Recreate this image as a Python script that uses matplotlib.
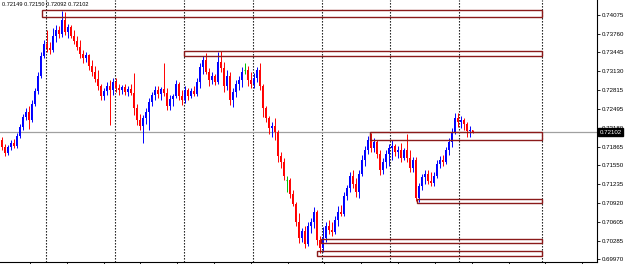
import matplotlib
matplotlib.use("Agg")
import matplotlib.pyplot as plt
from matplotlib.patches import Rectangle
import numpy as np

# H4 candles, oldest first (prices)
opens = [
    0.7198, 0.7186, 0.7176, 0.7186, 0.7193, 0.7188, 0.7205, 0.7220, 0.7236, 0.7245,
    0.7231, 0.7258, 0.7280, 0.7305, 0.7339, 0.7359, 0.7352, 0.7349, 0.7373, 0.7383,
    0.7376, 0.7399, 0.7379, 0.7388, 0.7373, 0.7364, 0.7354, 0.7342, 0.7336, 0.7341,
    0.7322, 0.7312, 0.7300, 0.7289, 0.7272, 0.7280, 0.7289, 0.7282, 0.7295, 0.7285,
    0.7282, 0.7287, 0.7278, 0.7283, 0.7277, 0.7252, 0.7231, 0.7221, 0.7235, 0.7245,
    0.7262, 0.7273, 0.7282, 0.7275, 0.7283, 0.7277, 0.7255, 0.7267, 0.7272, 0.7292,
    0.7272, 0.7265, 0.7282, 0.7272, 0.7280, 0.7275, 0.7295, 0.7320, 0.7332, 0.7312,
    0.7299, 0.7305, 0.7295, 0.7329, 0.7319, 0.7289, 0.7305, 0.7265, 0.7278, 0.7292,
    0.7299, 0.7315, 0.7315, 0.7299, 0.7292, 0.7302, 0.7315, 0.7289, 0.7252, 0.7235,
    0.7218, 0.7221, 0.7211, 0.7171, 0.7161, 0.7131, 0.7131, 0.7107, 0.7090, 0.7060,
    0.7033, 0.7045, 0.7023, 0.7053, 0.7060, 0.7077, 0.7030, 0.7016, 0.7033, 0.7053,
    0.7047, 0.7043, 0.7063, 0.7077, 0.7073, 0.7104, 0.7117, 0.7137, 0.7124, 0.7110,
    0.7141, 0.7164, 0.7181, 0.7198, 0.7184, 0.7194, 0.7174, 0.7147, 0.7161, 0.7174,
    0.7184, 0.7188, 0.7178, 0.7181, 0.7168, 0.7181, 0.7168, 0.7151, 0.7164, 0.7100,
    0.7121, 0.7136, 0.7141, 0.7129, 0.7126, 0.7137, 0.7157, 0.7164, 0.7161, 0.7181,
    0.7194, 0.7211, 0.7235, 0.7228, 0.7231, 0.7225, 0.7213, 0.72149,
]
highs = [
    0.7203, 0.7191, 0.7189, 0.7198, 0.7199, 0.7210, 0.7225, 0.7241, 0.7252, 0.7255,
    0.7265, 0.7285, 0.7312, 0.7346, 0.7366, 0.7383, 0.7362, 0.7386, 0.7391, 0.7389,
    0.7415, 0.7413, 0.7393, 0.7391, 0.7383, 0.7373, 0.7366, 0.7349, 0.7346, 0.7342,
    0.7332, 0.7322, 0.7315, 0.7292, 0.7285, 0.7295, 0.7299, 0.7302, 0.7302, 0.7292,
    0.7290, 0.7292, 0.7289, 0.7292, 0.7310, 0.7258, 0.7241, 0.7240, 0.7252, 0.7268,
    0.7278, 0.7289, 0.7289, 0.7287, 0.7327, 0.7285, 0.7273, 0.7275, 0.7299, 0.7295,
    0.7282, 0.7289, 0.7285, 0.7285, 0.7289, 0.7302, 0.7327, 0.7339, 0.7344, 0.7319,
    0.7312, 0.7309, 0.7346, 0.7347, 0.7329, 0.7315, 0.7312, 0.7285, 0.7299, 0.7305,
    0.7320, 0.7327, 0.7322, 0.7312, 0.7310, 0.7320, 0.7327, 0.7292, 0.7255, 0.7238,
    0.7228, 0.7235, 0.7215, 0.7178, 0.7168, 0.7137, 0.7134, 0.7114, 0.7094, 0.7075,
    0.7050, 0.7053, 0.7060, 0.7067, 0.7085, 0.7080, 0.7037, 0.7052, 0.7060, 0.7063,
    0.7060, 0.7070, 0.7087, 0.7089, 0.7110, 0.7122, 0.7144, 0.7147, 0.7134, 0.7147,
    0.7173, 0.7188, 0.7205, 0.7210, 0.7201, 0.7198, 0.7181, 0.7168, 0.7181, 0.7191,
    0.7198, 0.7191, 0.7188, 0.7193, 0.7184, 0.7208, 0.7181, 0.7169, 0.7169, 0.7126,
    0.7141, 0.7147, 0.7147, 0.7144, 0.7144, 0.7164, 0.7171, 0.7173, 0.7186, 0.7201,
    0.7218, 0.7243, 0.7243, 0.7238, 0.7235, 0.7228, 0.7221, 0.72150,
]
lows = [
    0.7181, 0.7171, 0.7173, 0.7181, 0.7184, 0.7184, 0.7201, 0.7215, 0.7231, 0.7216,
    0.7228, 0.7255, 0.7275, 0.7302, 0.7336, 0.7346, 0.7342, 0.7346, 0.7362, 0.7369,
    0.7371, 0.7374, 0.7369, 0.7369, 0.7359, 0.7349, 0.7336, 0.7327, 0.7329, 0.7315,
    0.7305, 0.7295, 0.7282, 0.7265, 0.7265, 0.7273, 0.7223, 0.7273, 0.7278, 0.7273,
    0.7275, 0.7273, 0.7272, 0.7273, 0.7240, 0.7223, 0.7215, 0.7193, 0.7225, 0.7215,
    0.7255, 0.7265, 0.7268, 0.7265, 0.7272, 0.7248, 0.7248, 0.7255, 0.7268, 0.7265,
    0.7257, 0.7260, 0.7265, 0.7268, 0.7272, 0.7272, 0.7285, 0.7309, 0.7309, 0.7289,
    0.7292, 0.7290, 0.7292, 0.7312, 0.7278, 0.7282, 0.7257, 0.7253, 0.7270, 0.7282,
    0.7287, 0.7309, 0.7289, 0.7285, 0.7285, 0.7295, 0.7282, 0.7236, 0.7228, 0.7208,
    0.7203, 0.7198, 0.7161, 0.7151, 0.7131, 0.7110, 0.7100, 0.7087, 0.7053, 0.7025,
    0.7026, 0.7016, 0.7020, 0.7042, 0.7050, 0.7021, 0.7008, 0.7010, 0.7026, 0.7040,
    0.7037, 0.7040, 0.7053, 0.7070, 0.7070, 0.7097, 0.7110, 0.7117, 0.7102, 0.7100,
    0.7137, 0.7154, 0.7174, 0.7178, 0.7178, 0.7168, 0.7139, 0.7141, 0.7151, 0.7154,
    0.7164, 0.7171, 0.7168, 0.7161, 0.7164, 0.7161, 0.7144, 0.7144, 0.7095, 0.7094,
    0.7114, 0.7124, 0.7124, 0.7121, 0.7121, 0.7134, 0.7151, 0.7154, 0.7157, 0.7173,
    0.7186, 0.7208, 0.7220, 0.7218, 0.7215, 0.7203, 0.7203, 0.72092,
]
closes = [
    0.7186, 0.7176, 0.7186, 0.7193, 0.7188, 0.7205, 0.7220, 0.7236, 0.7245, 0.7231,
    0.7258, 0.7280, 0.7305, 0.7339, 0.7359, 0.7352, 0.7349, 0.7373, 0.7383, 0.7376,
    0.7399, 0.7379, 0.7388, 0.7373, 0.7364, 0.7354, 0.7342, 0.7336, 0.7341, 0.7322,
    0.7312, 0.7300, 0.7289, 0.7272, 0.7280, 0.7289, 0.7282, 0.7295, 0.7285, 0.7282,
    0.7287, 0.7278, 0.7283, 0.7277, 0.7252, 0.7231, 0.7221, 0.7235, 0.7245, 0.7262,
    0.7273, 0.7282, 0.7275, 0.7283, 0.7277, 0.7255, 0.7267, 0.7272, 0.7292, 0.7272,
    0.7265, 0.7282, 0.7272, 0.7280, 0.7275, 0.7295, 0.7320, 0.7332, 0.7312, 0.7299,
    0.7305, 0.7295, 0.7329, 0.7319, 0.7289, 0.7305, 0.7265, 0.7278, 0.7292, 0.7299,
    0.7312, 0.7315, 0.7299, 0.7292, 0.7302, 0.7315, 0.7289, 0.7252, 0.7235, 0.7218,
    0.7221, 0.7211, 0.7171, 0.7161, 0.7137, 0.7131, 0.7107, 0.7090, 0.7060, 0.7033,
    0.7045, 0.7023, 0.7053, 0.7060, 0.7077, 0.7030, 0.7016, 0.7033, 0.7053, 0.7047,
    0.7043, 0.7063, 0.7077, 0.7073, 0.7104, 0.7117, 0.7137, 0.7124, 0.7110, 0.7141,
    0.7164, 0.7181, 0.7198, 0.7184, 0.7194, 0.7174, 0.7147, 0.7161, 0.7174, 0.7184,
    0.7188, 0.7178, 0.7181, 0.7168, 0.7181, 0.7168, 0.7151, 0.7164, 0.7100, 0.7121,
    0.7136, 0.7141, 0.7129, 0.7126, 0.7137, 0.7157, 0.7164, 0.7161, 0.7181, 0.7194,
    0.7211, 0.7235, 0.7228, 0.7231, 0.7225, 0.7213, 0.7215, 0.72102,
]

# price scale labels shown on the right
price_ticks = [0.74075, 0.73760, 0.73445, 0.73130, 0.72815, 0.72495, 0.72180,
               0.71865, 0.71550, 0.71235, 0.70920, 0.70605, 0.70285, 0.69970]

# supply / demand boxes: first bar, lower price, upper price (all end at the same bar)
zone_start = [13.5, 60.8, 122.8, 138.5, 106.5, 105.2]
zone_low = [0.74040, 0.73386, 0.71975, 0.70917, 0.70245, 0.70026]
zone_high = [0.74160, 0.73470, 0.72109, 0.70984, 0.70312, 0.70110]
zone_end = 180.2

# weekly period separators (bar positions)
separators = [14.8, 37.8, 60.8, 83.8, 106.8, 129.5, 152.5, 180.2]

o = np.array(opens)
h = np.array(highs)
l = np.array(lows)
c = np.array(closes)
x = np.arange(len(c))

plt.rcParams['font.family'] = ['Liberation Sans', 'DejaVu Sans']

fig = plt.figure(figsize=(6.25, 2.64), dpi=100)
ax = fig.add_axes([0, 2 / 264, 597 / 625, 262 / 264])

bull_col = '#0000ff'
bear_col = '#ff0000'
doji_col = '#00c000'

up = c > o
dn = c < o
dj = c == o

ax.vlines(x[up], l[up], h[up], color=bull_col, lw=0.7, zorder=3)
ax.bar(x[up], c[up] - o[up], bottom=o[up], width=0.55, color=bull_col, lw=0, zorder=3)
ax.vlines(x[dn], l[dn], h[dn], color=bear_col, lw=0.7, zorder=3)
ax.bar(x[dn], o[dn] - c[dn], bottom=c[dn], width=0.55, color=bear_col, lw=0, zorder=3)
ax.vlines(x[dj], l[dj], h[dj], color=doji_col, lw=0.7, zorder=3)
ax.hlines(o[dj], x[dj] - 0.3, x[dj] + 0.3, color=doji_col, lw=0.8, zorder=3)

for s, lo, hi in zip(zone_start, zone_low, zone_high):
    ax.add_patch(Rectangle((s, lo), zone_end - s, hi - lo, fill=False,
                           ec='#8b1a1a', lw=1.0, zorder=4))

for s in separators:
    ax.axvline(s, color='black', lw=0.8, ls=(0, (1.2, 1.5)), zorder=1)

# bid line
ax.axhline(c[-1], color='#a0a0a0', lw=0.9, zorder=2)

ax.set_xlim(-0.5, 198.5)
ax.set_ylim(0.69925, 0.74327)

ax.yaxis.tick_right()
ax.set_yticks(price_ticks)
ax.set_yticklabels(['%.5f' % p for p in price_ticks])
ax.tick_params(axis='y', length=2, width=0.6, pad=1.2, labelsize=4.4)

ax.set_xticks([9.5 + 12.27 * k for k in range(16)])
ax.set_xticklabels([])
ax.tick_params(axis='x', length=2, width=0.6)

for side in ['left', 'top']:
    ax.spines[side].set_visible(False)
for side in ['right', 'bottom']:
    ax.spines[side].set_linewidth(0.8)

ax.text(1.0045, c[-1], '%.5f' % c[-1], transform=ax.get_yaxis_transform(),
        fontsize=4.4, color='white', va='center', ha='left', clip_on=False, zorder=10,
        bbox=dict(boxstyle='square,pad=0.25', fc='black', ec='black'))

fig.text(2 / 625, 1 - 4 / 264, '%.5f %.5f %.5f %.5f' % (o[-1], h[-1], l[-1], c[-1]),
         fontsize=4.1, va='center', ha='left')

fig.savefig('out.png', dpi=100)
